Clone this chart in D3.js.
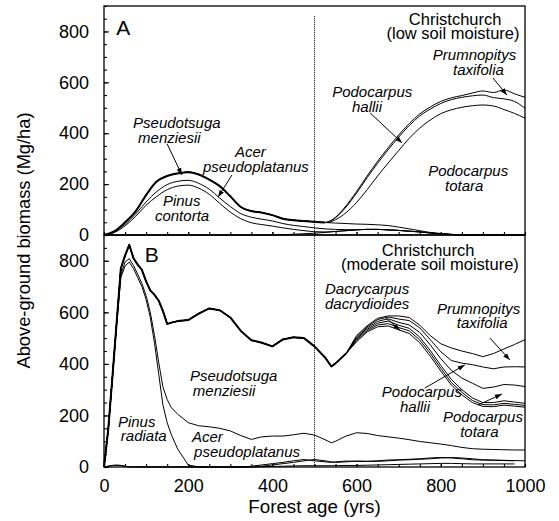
<!DOCTYPE html>
<html>
<head>
<meta charset="utf-8">
<script src="https://cdn.jsdelivr.net/npm/d3@7"></script>
<style>
  html, body { margin: 0; padding: 0; background: #fff; }
  svg { display: block; font-family: "Liberation Sans", Arial, Helvetica, sans-serif; }
</style>
</head>
<body>
<svg id="chart" width="559" height="521"></svg>
<script>
// ---- Panel A: Christchurch, low soil moisture (cumulative biomass, Mg/ha) ----
const yearsA = [0,25,50,75,100,125,150,175,200,225,250,275,300,325,350,375,400,425,450,475,500,
                525,550,575,600,625,650,675,700,725,750,775,800,825,850,875,900,925,950,975,1000];
const aMinor = [0,0,0,0,0,0,0,0,0,0,0,0,0,0,0,0,0,1,3,5,7,10,14,17,20,22,22,20,18,15,12,8,5,2,0,0,0,0,0,0,0];
const aPinus = [0,10,36,73,117,151,178,192,196,184,160,124,90,64,48,41,35,28,22,17,13,12,14,17,20,22,22,20,18,15,12,8,5,2,0,0,0,0,0,0,0];
const aAcer = [0,12,42,82,130,170,198,211,215,203,180,145,112,84,70,62,55,45,38,33,28,24,22,21,21,22,22,20,18,15,12,8,5,2,0,0,0,0,0,0,0];
const aPseudotsuga = [0,15,50,93,157,210,232,242,247,238,218,192,152,110,94,88,78,64,58,55,52,49,47,45,43,42,40,37,31,24,17,10,6,3,0,0,0,0,0,0,0];
const aTotara = [0,15,50,93,157,210,232,242,247,238,218,192,152,110,94,88,78,64,58,55,52,49,
                 60,88,128,178,232,283,332,380,420,452,477,492,502,508,511,507,493,478,459];
const aHallii = [0,15,50,93,157,210,232,242,247,238,218,192,152,110,94,88,78,64,58,55,52,49,
                 68,110,165,225,282,335,385,430,468,495,517,532,541,547,550,540,535,525,498];
const aPrumnopitys = [0,15,50,93,157,210,232,242,247,238,218,192,152,110,94,88,78,64,58,55,52,49,
                 70,115,171,232,290,343,393,438,476,503,525,539,548,558,566,560,570,555,541];

// ---- Panel B: Christchurch, moderate soil moisture ----
const yearsB = [0,10,20,30,40,50,60,70,80,90,100,110,120,130,140,150,160,175,200,225,250,275,300,325,350,
                375,400,425,450,475,500,525,540,550,575,600,625,650,675,700,725,750,775,800,825,850,875,900,925,950,975,1000];
const bMinor1 = [0,3,6,7,6,3,0, 0,0,0,0,0,0,0,0,0,0,0,0,0,0,0,0,0,0,
                 1,2,3,4,5,5,5,5,5,6,6,7,8,9,10,11,12,13,14,14,13,12,12,12,12,12];
const bMinor2 = [0,3,6,7,6,3,0, 0,0,0,0,0,0,0,0,0,0,0,0,0,0,0,0,0,
                 3,8,13,18,24,29,24,20,18,20,23,22,22,24,27,28,30,32,35,37,35,32,28,27,26,25,24];
const bPinus = [0,140,340,550,735,780,795,770,735,700,650,580,480,360,240,172,125,70,8,0,0,0,0,0,0,
                3,8,13,18,24,29,24,20,18,20,23,22,22,24,27,28,30,32,35,37,35,32,28,27,26,25,24];
const bAcer = [0,142,345,555,745,795,808,782,748,712,665,600,510,405,310,262,230,205,172,160,156,150,140,122,107,
               117,120,120,125,131,124,106,94,100,120,133,130,122,117,112,106,99,94,89,83,76,71,69,68,67,66,66];
const bPseudotsuga = [0,145,350,560,770,820,862,810,785,765,720,685,668,645,605,555,560,566,570,595,615,608,580,528,492,
               482,468,495,503,500,468,425,390,402,440,486,524,544,547,532,518,482,430,372,318,280,250,235,234,240,236,232];
const bOther = [0,145,350,560,770,820,862,810,785,765,720,685,668,645,605,555,560,566,570,595,615,608,580,528,492,
               482,468,495,503,500,468,425,390,402,440,490,529,551,556,541,528,493,441,383,328,290,258,242,241,247,243,239];
const bDacrycarpus = [0,145,350,560,770,820,862,810,785,765,720,685,668,645,605,555,560,566,570,595,615,608,580,528,492,
               482,468,495,503,500,468,425,390,402,440,495,534,558,566,550,538,504,452,394,340,300,268,250,250,257,252,247];
const bTotara = [0,145,350,560,770,820,862,810,785,765,720,685,668,645,605,555,560,566,570,595,615,608,580,528,492,
               482,468,495,503,500,468,425,390,402,440,500,539,565,575,561,551,522,474,420,375,345,325,305,310,320,318,312];
const bHallii = [0,145,350,560,770,820,862,810,785,765,720,685,668,645,605,555,560,566,570,595,615,608,580,528,492,
               482,468,495,503,500,468,425,390,402,440,505,544,572,582,574,568,540,494,447,413,403,397,388,381,388,389,388];
const bPrumnopitys = [0,145,350,560,770,820,862,810,785,765,720,685,668,645,605,555,560,566,570,595,615,608,580,528,492,
               482,468,495,503,500,468,425,390,402,440,510,548,577,586,586,580,550,510,478,462,450,440,428,440,458,475,494];

// Axis ticks
const yTickLabels = [0, 200, 400, 600, 800];
const yMinorTicks = d3.range(0, 901, 50);
const xTickLabels = [0, 200, 400, 600, 800, 1000];
const xMinorTicks = d3.range(0, 1001, 50);

// Species labels: first line anchored (left, baseline) at [year, biomass]; second line starts at its own year
const labelsA = [
  ["Pseudotsuga", 69, 420, "menziesii", 81],
  ["Acer", 311, 306, "pseudoplatanus", 235],
  ["Pinus", 140, 113, "contorta", 121],
  ["Podocarpus", 542, 542, "hallii", 589],
  ["Prumnopitys", 781, 687, "taxifolia", 829],
  ["Podocarpus", 770, 231, "totara", 810]
];
const labelsB = [
  ["Pinus", 33, 157, "radiata", 40],
  ["Acer", 209, 97, "pseudoplatanus", 214],
  ["Pseudotsuga", 204, 332, "menziesii", 211],
  ["Dacrycarpus", 525, 670, "dacrydioides", 525],
  ["Prumnopitys", 791, 595, "taxifolia", 838],
  ["Podocarpus", 660, 271, "hallii", 703],
  ["Podocarpus", 805, 174, "totara", 846]
];
// Pointer arrows: [from, to] in [year, biomass]
const arrowsA = [
  [[150, 358], [185, 236]], [[304, 236], [271, 149]],
  [[632, 480], [708, 362]], [[924, 617], [957, 550]]
];
const arrowsB = [
  [[670, 578], [703, 531]], [[917, 500], [964, 415]],
  [[762, 306], [857, 396]], [[888, 240], [945, 283]]
];

const svg = d3.select("#chart");
const x = d3.scaleLinear([0, 1000], [104, 525]);
const panels = [
  {
    y: d3.scaleLinear([0, 900], [235, 6]),
    years: yearsA,
    lines: [aMinor, aPinus, aAcer, aPseudotsuga, aTotara, aHallii, aPrumnopitys],
    heavy: [aPseudotsuga, aPrumnopitys],
    curve: d3.curveMonotoneX,
    letter: "A", letterAt: [29, 787],
    site: ["Christchurch", "(low soil moisture)"],
    siteAt: [[834, 825], [829, 770]],
    labels: labelsA, arrows: arrowsA, xLabels: false
  },
  {
    y: d3.scaleLinear([0, 900], [467, 235]),
    years: yearsB,
    lines: [bMinor1, bMinor2, bPinus, bAcer, bPseudotsuga, bOther, bDacrycarpus, bTotara, bHallii, bPrumnopitys],
    heavy: [bPseudotsuga, bPrumnopitys],
    curve: d3.curveLinear,
    letter: "B", letterAt: [97, 795],
    site: ["Christchurch", "(moderate soil moisture)"],
    siteAt: [[770, 818], [774, 764]],
    labels: labelsB, arrows: arrowsB, xLabels: true
  }
];

svg.append("defs").append("marker")
  .attr("id", "head").attr("viewBox", "0 0 10 10")
  .attr("refX", 10).attr("refY", 5)
  .attr("markerWidth", 7).attr("markerHeight", 7)
  .attr("orient", "auto")
  .append("path").attr("d", "M0,1.5 L10,5 L0,8.5 Z").attr("fill", "#000");

const font = "'Liberation Sans', Arial, Helvetica, sans-serif";

panels.forEach(p => {
  const y = p.y;
  const g = svg.append("g");

  // stacked boundaries
  const line = d3.line().x((d, i) => x(p.years[i])).y(d => y(d)).curve(p.curve);
  p.lines.forEach(vals => {
    g.append("path").attr("d", line(vals))
      .attr("fill", "none").attr("stroke", "#000").attr("stroke-width", 1);
  });
  // heavier where the upper layers have no biomass and boundaries coincide
  const [lower, upper] = p.heavy;
  const heavy = d3.line()
    .defined((d, i) => Math.abs(upper[i] - lower[i]) < 0.5)
    .x((d, i) => x(p.years[i])).y(d => y(d)).curve(p.curve);
  g.append("path").attr("d", heavy(lower))
    .attr("fill", "none").attr("stroke", "#000").attr("stroke-width", 2)
    .attr("stroke-linejoin", "round");

  // frame
  g.append("rect")
    .attr("x", x(0)).attr("y", y(900))
    .attr("width", x(1000) - x(0)).attr("height", y(0) - y(900))
    .attr("fill", "none").attr("stroke", "#000").attr("stroke-width", 1.3);

  // y axis (ticks inward)
  const yMinor = d3.axisLeft(y).tickValues(yMinorTicks).tickSize(-3).tickFormat("");
  const yMajor = d3.axisLeft(y).tickValues(yTickLabels).tickSize(-5).tickPadding(15);
  [yMinor, yMajor].forEach(ax => {
    const a = g.append("g").attr("transform", `translate(${x(0)},0)`).call(ax);
    a.select(".domain").remove();
    a.selectAll("line").attr("stroke-width", 1.1);
    a.selectAll("text").attr("font-size", 18).attr("fill", "#000").attr("font-family", font);
  });

  // x axis (ticks inward)
  const xMinor = d3.axisBottom(x).tickValues(xMinorTicks).tickSize(-3).tickFormat("");
  const xMajor = d3.axisBottom(x).tickValues(xTickLabels).tickSize(-3).tickPadding(12)
    .tickFormat(p.xLabels ? d3.format("d") : "");
  [xMinor, xMajor].forEach(ax => {
    const a = g.append("g").attr("transform", `translate(0,${y(0)})`).call(ax);
    a.select(".domain").remove();
    a.selectAll("line").attr("stroke-width", 1.1);
    a.selectAll("text").attr("font-size", 18).attr("fill", "#000").attr("font-family", font);
  });

  // panel letter and site title
  g.append("text").attr("x", x(p.letterAt[0])).attr("y", y(p.letterAt[1]))
    .attr("font-size", 21).text(p.letter);
  const site = g.append("text").attr("text-anchor", "middle").attr("font-size", 16.5);
  p.site.forEach((t, i) => {
    site.append("tspan").attr("x", x(p.siteAt[i][0])).attr("y", y(p.siteAt[i][1])).text(t);
  });

  // species labels
  p.labels.forEach(([t1, x1, y1, t2, x2]) => {
    const t = g.append("text").attr("font-size", 15).attr("font-style", "italic");
    t.append("tspan").attr("x", x(x1)).attr("y", y(y1)).text(t1);
    t.append("tspan").attr("x", x(x2)).attr("dy", "0.97em").text(t2);
  });

  // arrows
  p.arrows.forEach(([from, to]) => {
    g.append("line")
      .attr("x1", x(from[0])).attr("y1", y(from[1]))
      .attr("x2", x(to[0])).attr("y2", y(to[1]))
      .attr("stroke", "#000").attr("stroke-width", 1)
      .attr("marker-end", "url(#head)");
  });
});

// dotted marker at 500 years across both panels
svg.append("line")
  .attr("x1", x(500)).attr("x2", x(500))
  .attr("y1", panels[0].y(860)).attr("y2", panels[1].y(0))
  .attr("stroke", "#000").attr("stroke-width", 1).attr("stroke-dasharray", "1,1");

// axis titles
svg.append("text").attr("transform", `translate(30,${(panels[0].y(900) + panels[1].y(0)) / 2 + 4}) rotate(-90)`)
  .attr("text-anchor", "middle").attr("font-size", 18.3).text("Above-ground biomass (Mg/ha)");
svg.append("text").attr("x", x(500)).attr("y", 513)
  .attr("text-anchor", "middle").attr("font-size", 18.8).text("Forest age (yrs)");
</script>
</body>
</html>
